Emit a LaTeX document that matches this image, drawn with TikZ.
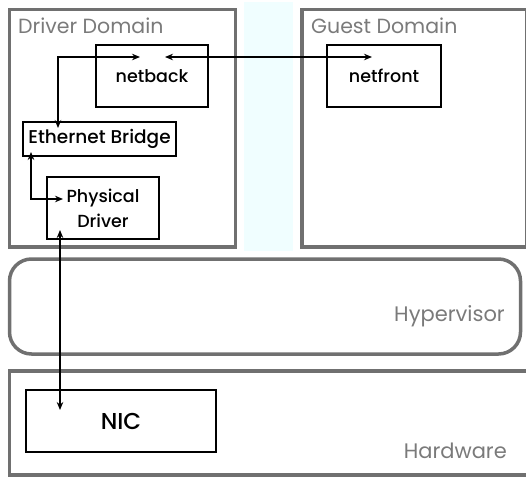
\documentclass[tikz,border=0pt]{standalone}
\usepackage{fontspec}
\setmainfont{Poppins}
\newfontfamily\medium{Poppins}[UprightFont={* Medium}]
\usetikzlibrary{arrows.meta}
\definecolor{frame}{HTML}{707070}
\definecolor{caption}{HTML}{7A7A7A}
\definecolor{gap}{HTML}{F0FEFF}
\begin{document}
\begin{tikzpicture}[x=1pt,y=-1pt,
  layer/.style={draw=frame, line width=3.5pt, inner sep=0pt},
  part/.style={draw=black, line width=1.4pt, inner sep=0pt, align=center,
               font=\medium\fontsize{17.5}{25}\selectfont},
  title/.style={text=caption, inner sep=0pt, font=\fontsize{20.5}{24}\selectfont},
  bigtitle/.style={text=caption, inner sep=0pt, font=\fontsize{21}{26}\selectfont},
  link/.style={draw=black, line width=1.4pt, {Stealth[length=8pt,width=6.5pt]}-{Stealth[length=8pt,width=6.5pt]}}]
\useasboundingbox (0,0) rectangle (526,479);

% pale strip between the two domains
\fill[gap] (244,2) rectangle (293,251);

% layers
\node[layer, minimum width=226pt, minimum height=237.5pt] (dd) at (122.5,128.25) {};
\node[layer, minimum width=225pt, minimum height=237.5pt] (gd) at (414.5,128.25) {};
\node[layer, rounded corners=22pt, minimum width=511pt, minimum height=95pt] (hv) at (265,306.5) {};
\node[layer, minimum width=518.5pt, minimum height=104pt] (hw) at (268.75,423) {};

% layer captions
\node[title, anchor=base west] (ddl) at (18,33) {Driver Domain};
\node[title, anchor=base west] (gdl) at (311,33) {Guest Domain};
\node[bigtitle, anchor=base east] (hvl) at (505,321.5) {Hypervisor};
\node[bigtitle, anchor=base east] (hwl) at (507,458) {Hardware};

% components
\node[part, minimum width=112pt, minimum height=62pt] (nb) at (152,76) {netback};
\node[part, minimum width=114pt, minimum height=62pt] (nf) at (384,76) {netfront};
\node[part, minimum width=153pt, minimum height=34pt, font=\medium\fontsize{18.5}{24}\selectfont] (eb) at (99.5,139) {Ethernet Bridge};
\node[part, minimum width=112pt, minimum height=62pt] (pd) at (103,208) {Physical\\Driver};
\node[part, minimum width=190pt, minimum height=62pt, font=\medium\fontsize{23}{26}\selectfont] (nic) at (121,421) {NIC};

% connector end points
\coordinate (nbW) at (140,57);
\coordinate (nbE) at (165,57);
\coordinate (nfW) at (372,57);
\coordinate (ebN) at (58,128);
\coordinate (ebS) at (31,152);
\coordinate (pdW) at (63,199);
\coordinate (pdS) at (60,230);
\coordinate (nicN) at (60,410);

% connectors
\draw[link] (nbW) -| (ebN);
\draw[link] (nbE) -- (nfW);
\draw[link] (ebS) |- (pdW);
\draw[link] (pdS) -- (nicN);
\end{tikzpicture}
\end{document}
